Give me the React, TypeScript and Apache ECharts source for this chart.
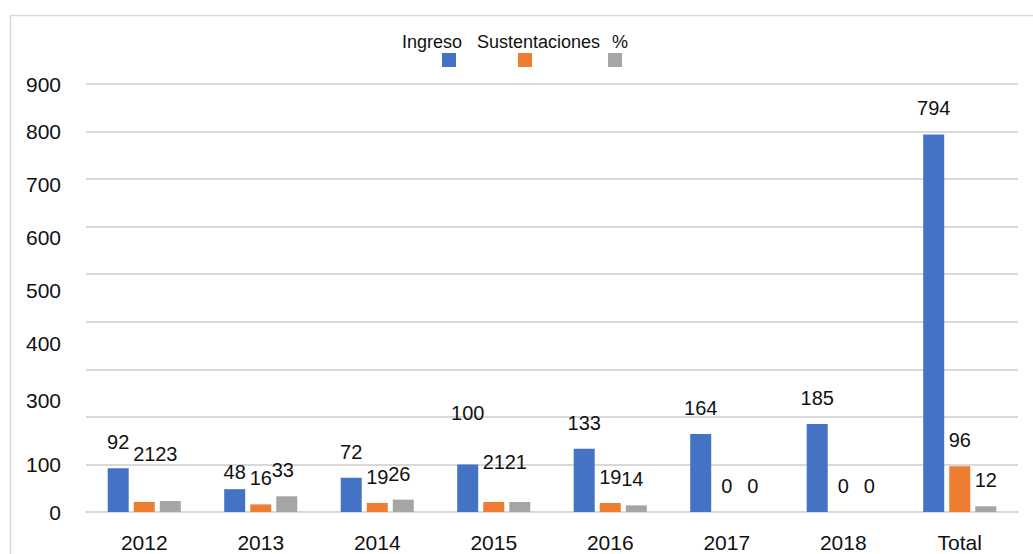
import React, { useEffect, useRef } from "react";
import * as echarts from "echarts";

const categories = ["2012", "2013", "2014", "2015", "2016", "2017", "2018", "Total"];
const ingreso = [92, 48, 72, 100, 133, 164, 185, 794];
const sustentaciones = [21, 16, 19, 21, 19, 0, 0, 96];
const porcentaje = [23, 33, 26, 21, 14, 0, 0, 12];
const seriesNames = ["Ingreso", "Sustentaciones", "%"];
const colors = ["#4472c4", "#ed7d31", "#a5a5a5"];
const yTickLabels = [0, 100, 300, 400, 500, 600, 700, 800, 900];

const FONT = "'Liberation Sans', Arial, sans-serif";

// label nudges [dx, lift] of individual data labels (style only)
const labelNudge: Record<string, [number, number]> = {
  "0-1": [0, -9],
  "0-3": [0, 25],
  "1-0": [0, 22],
  "1-3": [0, 14],
  "2-0": [-4, 21],
  "2-1": [-4, 0],
  "2-2": [-4, 0],
  "2-3": [-4, 14],
  "2-4": [-4, 0],
};
// y-axis label vertical nudges (style only)
const yLabelShift: Record<number, number> = { 700: 5, 600: 11, 500: 16, 400: 22, 300: 31 };

export default function App() {
  const ref = useRef<HTMLDivElement>(null);
  useEffect(() => {
    document.body.style.margin = "0";
    if (!ref.current) return;
    const chart = echarts.init(ref.current, undefined, { renderer: "svg" });
    const allData = [ingreso, sustentaciones, porcentaje];

    const rich: Record<string, any> = {};
    yTickLabels.forEach((v) => {
      rich["t" + v] = {
        fontFamily: FONT,
        fontSize: 21,
        color: "#111",
        padding: [2 * (yLabelShift[v] || 0), 0, 0, 0],
      };
    });

    const legends: any[] = [];
    const textLeft = [397, 472, 607];
    const iconLeft = [442, 518, 608];
    seriesNames.forEach((n, i) => {
      legends.push({
        data: [n],
        left: textLeft[i],
        top: 33,
        padding: 0,
        itemWidth: 0,
        itemHeight: 0,
        icon: "rect",
        selectedMode: false,
        textStyle: { fontFamily: FONT, fontSize: 18, color: "#111" },
      });
      legends.push({
        data: [n],
        left: iconLeft[i],
        top: 53,
        padding: 0,
        itemWidth: 14,
        itemHeight: 14,
        icon: "rect",
        selectedMode: false,
        formatter: () => "",
        textStyle: { fontSize: 8 },
      });
    });

    chart.setOption({
      animation: false,
      legend: legends,
      graphic: [
        {
          type: "rect",
          left: 8,
          top: 13,
          shape: { x: 0, y: 0, width: 1200, height: 700 },
          style: { fill: "none", stroke: "#d9d9d9", lineWidth: 1.5 },
          silent: true,
        },
      ],
      grid: { left: 86, right: 15, top: 84, bottom: 42 },
      xAxis: {
        type: "category",
        data: categories,
        axisLine: { show: true, lineStyle: { color: "#d9d9d9", width: 2 } },
        axisTick: { show: false },
        axisLabel: { fontFamily: FONT, fontSize: 21, color: "#111", margin: 20 },
      },
      yAxis: {
        type: "value",
        min: 0,
        max: 900,
        interval: 100,
        axisLine: { show: false },
        axisTick: { show: false },
        splitLine: { lineStyle: { color: "#d9d9d9", width: 2 } },
        axisLabel: {
          margin: 25,
          formatter: (v: number) => (yTickLabels.includes(v) ? `{t${v}|${v}}` : ""),
          rich,
        },
      },
      series: seriesNames.map((n, si) => ({
        name: n,
        type: "bar",
        barWidth: 21,
        barGap: "24%",
        itemStyle: { color: colors[si] },
        label: {
          show: true,
          position: "top",
          distance: 15,
          fontFamily: FONT,
          fontSize: 20,
          lineHeight: 22,
          color: "#111",
        },
        data: allData[si].map((v, i) => {
          const nudge = labelNudge[`${si}-${i}`];
          return nudge ? { value: v, label: { offset: [nudge[0], -nudge[1]] } } : v;
        }),
      })),
    });
    return () => chart.dispose();
  }, []);
  return <div ref={ref} style={{ width: 1033, height: 554 }} />;
}
